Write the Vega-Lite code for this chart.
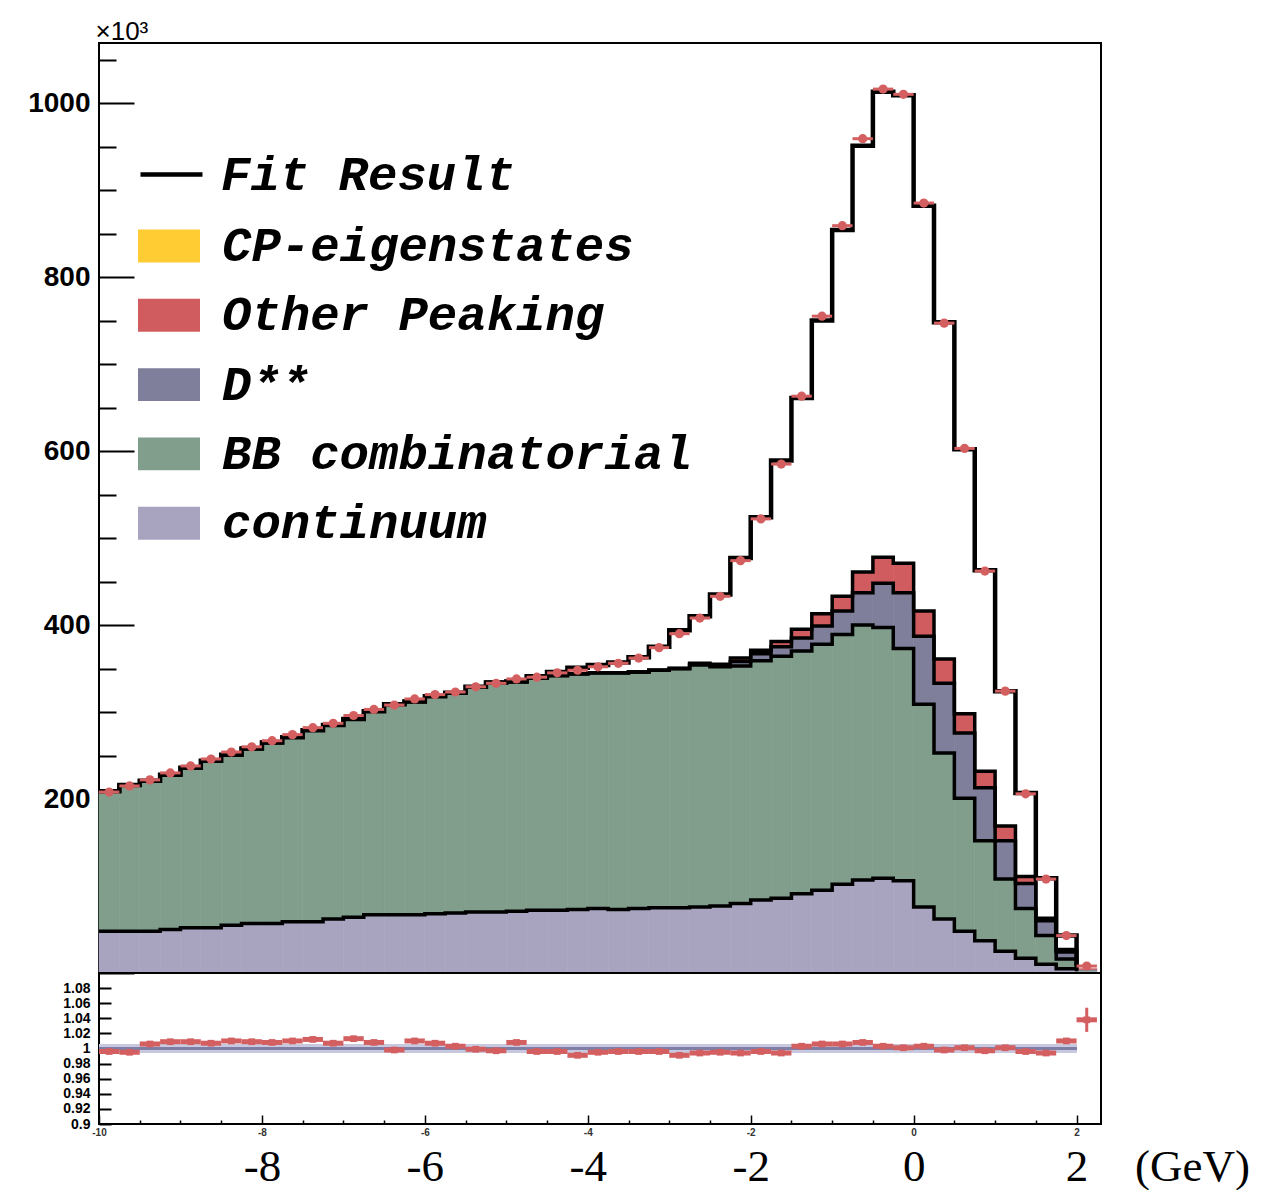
{
"$schema": "https://vega.github.io/schema/vega-lite/v6.json",
"background": "white",
"padding": {"left": 26, "top": 17, "right": 4, "bottom": 0},
"spacing": 0,
"bounds": "flush",
"config": {
  "view": {"stroke": "#000", "strokeWidth": 2},
  "axis": {"grid": false, "domain": false, "tickColor": "#000", "labelColor": "#000", "titleColor": "#000", "labelFlush": false}
},
"datasets": {
"bins": [
{"lo":-10,"hi":-9.75,"mid":-9.875,"cont":48,"bb":209,"dss":209,"oth":209,"cp":209,"fit":209,"data":208,"err":3,"ratio":0.996,"rerr":0.002},
{"lo":-9.75,"hi":-9.5,"mid":-9.625,"cont":48,"bb":216,"dss":216,"oth":216,"cp":216,"fit":216,"data":215,"err":3,"ratio":0.995,"rerr":0.002},
{"lo":-9.5,"hi":-9.25,"mid":-9.375,"cont":48,"bb":221,"dss":221,"oth":221,"cp":221,"fit":221,"data":222,"err":3,"ratio":1.006,"rerr":0.002},
{"lo":-9.25,"hi":-9,"mid":-9.125,"cont":50,"bb":228,"dss":228,"oth":228,"cp":228,"fit":228,"data":230,"err":3,"ratio":1.009,"rerr":0.002},
{"lo":-9,"hi":-8.75,"mid":-8.875,"cont":52,"bb":236,"dss":236,"oth":236,"cp":236,"fit":236,"data":238,"err":3,"ratio":1.009,"rerr":0.002},
{"lo":-8.75,"hi":-8.5,"mid":-8.625,"cont":52,"bb":244,"dss":244,"oth":244,"cp":244,"fit":244,"data":246,"err":3,"ratio":1.007,"rerr":0.002},
{"lo":-8.5,"hi":-8.25,"mid":-8.375,"cont":55,"bb":251,"dss":251,"oth":251,"cp":251,"fit":251,"data":254,"err":3,"ratio":1.010,"rerr":0.002},
{"lo":-8.25,"hi":-8,"mid":-8.125,"cont":57,"bb":258,"dss":258,"oth":258,"cp":258,"fit":258,"data":260,"err":3,"ratio":1.009,"rerr":0.002},
{"lo":-8,"hi":-7.75,"mid":-7.875,"cont":57,"bb":265,"dss":265,"oth":265,"cp":265,"fit":265,"data":267,"err":3,"ratio":1.008,"rerr":0.002},
{"lo":-7.75,"hi":-7.5,"mid":-7.625,"cont":59,"bb":271,"dss":271,"oth":271,"cp":271,"fit":271,"data":274,"err":3,"ratio":1.010,"rerr":0.002},
{"lo":-7.5,"hi":-7.25,"mid":-7.375,"cont":59,"bb":279,"dss":279,"oth":279,"cp":279,"fit":279,"data":282,"err":3,"ratio":1.012,"rerr":0.002},
{"lo":-7.25,"hi":-7,"mid":-7.125,"cont":62,"bb":285,"dss":285,"oth":285,"cp":285,"fit":285,"data":287,"err":3,"ratio":1.007,"rerr":0.002},
{"lo":-7,"hi":-6.75,"mid":-6.875,"cont":64,"bb":292,"dss":292,"oth":292,"cp":292,"fit":292,"data":296,"err":3,"ratio":1.013,"rerr":0.002},
{"lo":-6.75,"hi":-6.5,"mid":-6.625,"cont":67,"bb":301,"dss":301,"oth":301,"cp":301,"fit":301,"data":303,"err":3,"ratio":1.008,"rerr":0.002},
{"lo":-6.5,"hi":-6.25,"mid":-6.375,"cont":67,"bb":309,"dss":309,"oth":309,"cp":309,"fit":309,"data":308,"err":3,"ratio":0.998,"rerr":0.002},
{"lo":-6.25,"hi":-6,"mid":-6.125,"cont":67,"bb":312,"dss":312,"oth":312,"cp":312,"fit":312,"data":315,"err":3,"ratio":1.010,"rerr":0.002},
{"lo":-6,"hi":-5.75,"mid":-5.875,"cont":68,"bb":318,"dss":318,"oth":318,"cp":318,"fit":318,"data":320,"err":3,"ratio":1.007,"rerr":0.002},
{"lo":-5.75,"hi":-5.5,"mid":-5.625,"cont":69,"bb":322,"dss":322,"oth":322,"cp":322,"fit":322,"data":323,"err":3,"ratio":1.003,"rerr":0.002},
{"lo":-5.5,"hi":-5.25,"mid":-5.375,"cont":70,"bb":329,"dss":329,"oth":329,"cp":329,"fit":329,"data":329,"err":3,"ratio":0.999,"rerr":0.002},
{"lo":-5.25,"hi":-5,"mid":-5.125,"cont":70,"bb":334,"dss":334,"oth":334,"cp":334,"fit":334,"data":333,"err":3,"ratio":0.997,"rerr":0.002},
{"lo":-5,"hi":-4.75,"mid":-4.875,"cont":71,"bb":335,"dss":335,"oth":335,"cp":335,"fit":335,"data":338,"err":3,"ratio":1.008,"rerr":0.002},
{"lo":-4.75,"hi":-4.5,"mid":-4.625,"cont":72,"bb":339,"dss":339,"oth":339,"cp":339,"fit":341,"data":340,"err":3,"ratio":0.996,"rerr":0.002},
{"lo":-4.5,"hi":-4.25,"mid":-4.375,"cont":72,"bb":342,"dss":342,"oth":342,"cp":342,"fit":346,"data":345,"err":3,"ratio":0.996,"rerr":0.002},
{"lo":-4.25,"hi":-4,"mid":-4.125,"cont":73,"bb":344,"dss":344,"oth":344,"cp":344,"fit":351,"data":348,"err":3,"ratio":0.991,"rerr":0.002},
{"lo":-4,"hi":-3.75,"mid":-3.875,"cont":74,"bb":345,"dss":345,"oth":345,"cp":345,"fit":354,"data":352,"err":3,"ratio":0.995,"rerr":0.002},
{"lo":-3.75,"hi":-3.5,"mid":-3.625,"cont":73,"bb":345,"dss":345,"oth":345,"cp":345,"fit":357,"data":356,"err":3,"ratio":0.996,"rerr":0.002},
{"lo":-3.5,"hi":-3.25,"mid":-3.375,"cont":74,"bb":346,"dss":346,"oth":346,"cp":346,"fit":363,"data":362,"err":3,"ratio":0.996,"rerr":0.002},
{"lo":-3.25,"hi":-3,"mid":-3.125,"cont":75,"bb":348,"dss":348,"oth":348,"cp":348,"fit":375,"data":374,"err":3,"ratio":0.996,"rerr":0.002},
{"lo":-3,"hi":-2.75,"mid":-2.875,"cont":75,"bb":350,"dss":350,"oth":350,"cp":350,"fit":394,"data":390,"err":3,"ratio":0.991,"rerr":0.002},
{"lo":-2.75,"hi":-2.5,"mid":-2.625,"cont":76,"bb":354,"dss":355,"oth":356,"cp":356,"fit":410,"data":408,"err":3,"ratio":0.994,"rerr":0.002},
{"lo":-2.5,"hi":-2.25,"mid":-2.375,"cont":77,"bb":352,"dss":354,"oth":355,"cp":355,"fit":435,"data":433,"err":3,"ratio":0.995,"rerr":0.002},
{"lo":-2.25,"hi":-2,"mid":-2.125,"cont":80,"bb":353,"dss":358,"oth":362,"cp":362,"fit":477,"data":474,"err":3,"ratio":0.994,"rerr":0.002},
{"lo":-2,"hi":-1.75,"mid":-1.875,"cont":84,"bb":359,"dss":367,"oth":371,"cp":371,"fit":524,"data":522,"err":3,"ratio":0.996,"rerr":0.002},
{"lo":-1.75,"hi":-1.5,"mid":-1.625,"cont":86,"bb":364,"dss":375,"oth":381,"cp":381,"fit":589,"data":585,"err":3,"ratio":0.994,"rerr":0.002},
{"lo":-1.5,"hi":-1.25,"mid":-1.375,"cont":91,"bb":370,"dss":385,"oth":395,"cp":395,"fit":661,"data":663,"err":3,"ratio":1.003,"rerr":0.002},
{"lo":-1.25,"hi":-1,"mid":-1.125,"cont":95,"bb":378,"dss":399,"oth":413,"cp":414,"fit":750,"data":755,"err":3,"ratio":1.006,"rerr":0.002},
{"lo":-1,"hi":-0.75,"mid":-0.875,"cont":102,"bb":389,"dss":416,"oth":433,"cp":434,"fit":854,"data":859,"err":3,"ratio":1.006,"rerr":0.002},
{"lo":-0.75,"hi":-0.5,"mid":-0.625,"cont":107,"bb":400,"dss":437,"oth":461,"cp":462,"fit":951,"data":959,"err":3,"ratio":1.008,"rerr":0.002},
{"lo":-0.5,"hi":-0.25,"mid":-0.375,"cont":109,"bb":397,"dss":448,"oth":478,"cp":479,"fit":1013,"data":1016,"err":3,"ratio":1.003,"rerr":0.002},
{"lo":-0.25,"hi":0,"mid":-0.125,"cont":106,"bb":373,"dss":437,"oth":471,"cp":472,"fit":1009,"data":1010,"err":3,"ratio":1.001,"rerr":0.002},
{"lo":0,"hi":0.25,"mid":0.125,"cont":76,"bb":309,"dss":387,"oth":416,"cp":417,"fit":882,"data":885,"err":3,"ratio":1.003,"rerr":0.002},
{"lo":0.25,"hi":0.5,"mid":0.375,"cont":62,"bb":253,"dss":333,"oth":361,"cp":362,"fit":748,"data":747,"err":3,"ratio":0.998,"rerr":0.002},
{"lo":0.5,"hi":0.75,"mid":0.625,"cont":48,"bb":201,"dss":276,"oth":298,"cp":298,"fit":602,"data":603,"err":3,"ratio":1.001,"rerr":0.002},
{"lo":0.75,"hi":1,"mid":0.875,"cont":37,"bb":152,"dss":213,"oth":232,"cp":232,"fit":463,"data":462,"err":3,"ratio":0.997,"rerr":0.002},
{"lo":1,"hi":1.25,"mid":1.125,"cont":25,"bb":108,"dss":152,"oth":169,"cp":169,"fit":324,"data":324,"err":3,"ratio":1.001,"rerr":0.002},
{"lo":1.25,"hi":1.5,"mid":1.375,"cont":17,"bb":74,"dss":103,"oth":111,"cp":111,"fit":207,"data":206,"err":3,"ratio":0.996,"rerr":0.002},
{"lo":1.5,"hi":1.75,"mid":1.625,"cont":10,"bb":43,"dss":60,"oth":63,"cp":63,"fit":109,"data":108,"err":3,"ratio":0.994,"rerr":0.002},
{"lo":1.75,"hi":2,"mid":1.875,"cont":5,"bb":16,"dss":24,"oth":27,"cp":27,"fit":43,"data":43,"err":2,"ratio":1.010,"rerr":0.003},
{"lo":2,"hi":2.25,"mid":2.125,"cont":2,"bb":3,"dss":4,"oth":5,"cp":5,"fit":8,"data":8,"err":1,"ratio":1.038,"rerr":0.016}
]
},
"vconcat": [
{
  "width": 1002, "height": 930,
  "data": {"name": "bins"},
  "resolve": {"axis": {"y": "independent"}},
  "layer": [
    {"mark": {"type": "bar", "stroke": "#a8a4c0", "strokeWidth": 0.6},
     "encoding": {
       "x": {"field": "lo", "type": "quantitative", "scale": {"domain": [-10, 2.3], "nice": false, "zero": false}, "axis": null},
       "x2": {"field": "hi"},
       "y": {"field": "cont", "type": "quantitative", "scale": {"domain": [0, 1069], "nice": false},
             "axis": {"orient": "left", "values": [200, 400, 600, 800, 1000], "labelExpr": "format(datum.value, 'd')", "ticks": false, "labelFont": "Liberation Sans", "labelFontWeight": "bold", "labelFontSize": 28, "labelPadding": 9,
                      "title": "×10³", "titleAngle": 0, "titleX": -4, "titleY": -4, "titleAlign": "left", "titleBaseline": "alphabetic", "titleFont": "Liberation Sans", "titleFontSize": 26, "titleFontWeight": "normal"}},
       "y2": {"datum": 0},
       "color": {"datum": "continuum",
                 "scale": {"domain": ["CP-eigenstates", "Other Peaking", "D**", "BB combinatorial", "continuum"],
                           "range": ["#ffcc33", "#d05c5f", "#7f7f9b", "#809e8b", "#a8a4c0"]},
                 "legend": {"orient": "none", "legendX": 39, "legendY": 172, "title": null, "padding": 0,
                            "symbolType": "M-1,-0.53L1,-0.53L1,0.53L-1,0.53Z", "symbolSize": 3844, "symbolStrokeWidth": 0, "symbolOpacity": 1,
                            "labelFont": "Liberation Mono", "labelFontSize": 49, "labelFontStyle": "italic", "labelFontWeight": "bold", "labelColor": "#000",
                            "labelOffset": 22, "rowPadding": 13.3, "labelLimit": 900}}
     }},
    {"mark": {"type": "bar", "stroke": "#809e8b", "strokeWidth": 0.6},
     "encoding": {
       "x": {"field": "lo", "type": "quantitative", "axis": null},
       "x2": {"field": "hi"},
       "y": {"field": "bb", "type": "quantitative",
             "axis": {"orient": "left", "values": [0, 200, 400, 600, 800, 1000], "labels": false, "tickSize": -35, "tickWidth": 2, "title": null}},
       "y2": {"field": "cont"},
       "color": {"datum": "BB combinatorial"}
     }},
    {"mark": {"type": "bar", "stroke": "#7f7f9b", "strokeWidth": 0.6},
     "encoding": {
       "x": {"field": "lo", "type": "quantitative", "axis": null},
       "x2": {"field": "hi"},
       "y": {"field": "dss", "type": "quantitative",
             "axis": {"orient": "left", "values": [50, 100, 150, 250, 300, 350, 450, 500, 550, 650, 700, 750, 850, 900, 950, 1050], "labels": false, "tickSize": -17, "tickWidth": 2, "title": null}},
       "y2": {"field": "bb"},
       "color": {"datum": "D**"}
     }},
    {"mark": {"type": "bar", "stroke": "#d05c5f", "strokeWidth": 0.6},
     "encoding": {
       "x": {"field": "lo", "type": "quantitative", "axis": null},
       "x2": {"field": "hi"},
       "y": {"field": "oth", "type": "quantitative", "axis": null},
       "y2": {"field": "dss"},
       "color": {"datum": "Other Peaking"}
     }},
    {"mark": {"type": "bar", "strokeWidth": 0},
     "encoding": {
       "x": {"field": "lo", "type": "quantitative", "axis": null},
       "x2": {"field": "hi"},
       "y": {"field": "cp", "type": "quantitative", "axis": null},
       "y2": {"field": "oth"},
       "color": {"datum": "CP-eigenstates"}
     }},
    {"mark": {"type": "line", "interpolate": "step-after", "color": "#000", "strokeWidth": 3.5, "strokeJoin": "miter"},
     "encoding": {"x": {"field": "lo", "type": "quantitative", "axis": null}, "y": {"field": "cont", "type": "quantitative", "axis": null}}},
    {"mark": {"type": "line", "interpolate": "step-after", "color": "#000", "strokeWidth": 3.5, "strokeJoin": "miter"},
     "encoding": {"x": {"field": "lo", "type": "quantitative", "axis": null}, "y": {"field": "bb", "type": "quantitative", "axis": null}}},
    {"mark": {"type": "line", "interpolate": "step-after", "color": "#000", "strokeWidth": 3.5, "strokeJoin": "miter"},
     "encoding": {"x": {"field": "lo", "type": "quantitative", "axis": null}, "y": {"field": "dss", "type": "quantitative", "axis": null}}},
    {"mark": {"type": "line", "interpolate": "step-after", "color": "#000", "strokeWidth": 3.5, "strokeJoin": "miter"},
     "encoding": {"x": {"field": "lo", "type": "quantitative", "axis": null}, "y": {"field": "oth", "type": "quantitative", "axis": null}}},
    {"mark": {"type": "line", "interpolate": "step-after", "color": "#000", "strokeWidth": 4.5, "strokeJoin": "miter"},
     "encoding": {"x": {"field": "lo", "type": "quantitative", "axis": null}, "y": {"field": "fit", "type": "quantitative", "axis": null},
                  "strokeDash": {"datum": "Fit Result", "scale": {"domain": ["Fit Result"], "range": [[1, 0]]},
                                 "legend": {"orient": "none", "legendX": 39, "legendY": 98, "title": null, "padding": 0,
                                            "symbolType": "stroke", "symbolSize": 3844, "symbolStrokeWidth": 4.5, "symbolStrokeColor": "#000", "symbolOpacity": 1,
                                            "labelFont": "Liberation Mono", "labelFontSize": 49, "labelFontStyle": "italic", "labelFontWeight": "bold", "labelColor": "#000",
                                            "labelOffset": 16, "labelLimit": 900}}}},
    {"mark": {"type": "rule", "color": "#d45f60", "strokeWidth": 3},
     "encoding": {"x": {"field": "lo", "type": "quantitative", "axis": null}, "x2": {"field": "hi"}, "y": {"field": "data", "type": "quantitative", "axis": null}}},
    {"mark": {"type": "errorbar", "color": "#d45f60", "thickness": 2.5},
     "encoding": {"x": {"field": "mid", "type": "quantitative", "axis": null}, "y": {"field": "data", "type": "quantitative", "axis": null}, "yError": {"field": "err"}}},
    {"mark": {"type": "point", "shape": "circle", "filled": true, "color": "#d45f60", "size": 85, "opacity": 1},
     "encoding": {"x": {"field": "mid", "type": "quantitative", "axis": null}, "y": {"field": "data", "type": "quantitative", "axis": null}}}
  ]
},
{
  "width": 1002, "height": 151,
  "data": {"name": "bins"},
  "resolve": {"axis": {"x": "independent", "y": "independent"}},
  "layer": [
    {"mark": {"type": "rule", "color": "#c8c8de", "strokeWidth": 8},
     "encoding": {
       "x": {"datum": -10, "type": "quantitative", "scale": {"domain": [-10, 2.3], "nice": false, "zero": false},
             "axis": {"orient": "bottom", "values": [-8, -6, -4, -2, 0, 2], "labelExpr": "datum.value < 0 ? '-' + abs(datum.value) : '' + datum.value", "ticks": false, "labelFont": "Liberation Serif", "labelFontSize": 45, "labelBaseline": "alphabetic", "labelPadding": 56,
                      "title": "(GeV)", "titleFont": "Liberation Serif", "titleFontSize": 45, "titleFontWeight": "normal", "titleX": 1093, "titleY": 56, "titleBaseline": "alphabetic", "titleAlign": "center"}},
       "x2": {"datum": 2},
       "y": {"datum": 1, "type": "quantitative", "scale": {"domain": [0.9, 1.1], "nice": false, "zero": false},
             "axis": {"orient": "left", "values": [0.9, 0.92, 0.94, 0.96, 0.98, 1, 1.02, 1.04, 1.06, 1.08], "labelExpr": "format(datum.value, '~g')", "ticks": false,
                      "labelFont": "Liberation Sans", "labelFontWeight": "bold", "labelFontSize": 14, "labelPadding": 9, "title": null}}
     }},
    {"mark": {"type": "rule", "color": "#7e7ea6", "strokeWidth": 3},
     "encoding": {
       "x": {"datum": -10, "type": "quantitative",
             "axis": {"orient": "bottom", "values": [-9.5, -9, -8.5, -7.5, -7, -6.5, -5.5, -5, -4.5, -3.5, -3, -2.5, -1.5, -1, -0.5, 0.5, 1, 1.5], "labels": false, "tickSize": -4, "tickWidth": 1.5, "title": null}},
       "x2": {"datum": 2},
       "y": {"datum": 1, "type": "quantitative",
             "axis": {"orient": "left", "values": [0.9, 0.92, 0.94, 0.96, 0.98, 1, 1.02, 1.04, 1.06, 1.08], "labels": false, "tickSize": -12, "tickWidth": 2, "title": null}}
     }},
    {"mark": {"type": "rule", "color": "#d45f60", "strokeWidth": 5},
     "encoding": {
       "x": {"field": "lo", "type": "quantitative",
             "axis": {"orient": "bottom", "values": [-10, -8, -6, -4, -2, 0, 2], "labelExpr": "datum.value < 0 ? '-' + abs(datum.value) : '' + datum.value", "ticks": false, "labelFont": "Liberation Sans", "labelFontWeight": "bold", "labelFontSize": 10, "labelColor": "#333", "labelPadding": 3, "title": null}},
       "x2": {"field": "hi"},
       "y": {"field": "ratio", "type": "quantitative", "axis": null}
     }},
    {"mark": {"type": "errorbar", "color": "#d45f60", "thickness": 3},
     "encoding": {"x": {"field": "mid", "type": "quantitative", "axis": null}, "y": {"field": "ratio", "type": "quantitative", "axis": null}, "yError": {"field": "rerr"}}},
    {"mark": {"type": "point", "shape": "square", "filled": true, "color": "#d45f60", "size": 45, "opacity": 1},
     "encoding": {
       "x": {"field": "mid", "type": "quantitative",
             "axis": {"orient": "bottom", "values": [-10, -8, -6, -4, -2, 0, 2], "labels": false, "tickSize": -9, "tickWidth": 1.5, "title": null}},
       "y": {"field": "ratio", "type": "quantitative", "axis": null}
     }}
  ]
}
]
}
